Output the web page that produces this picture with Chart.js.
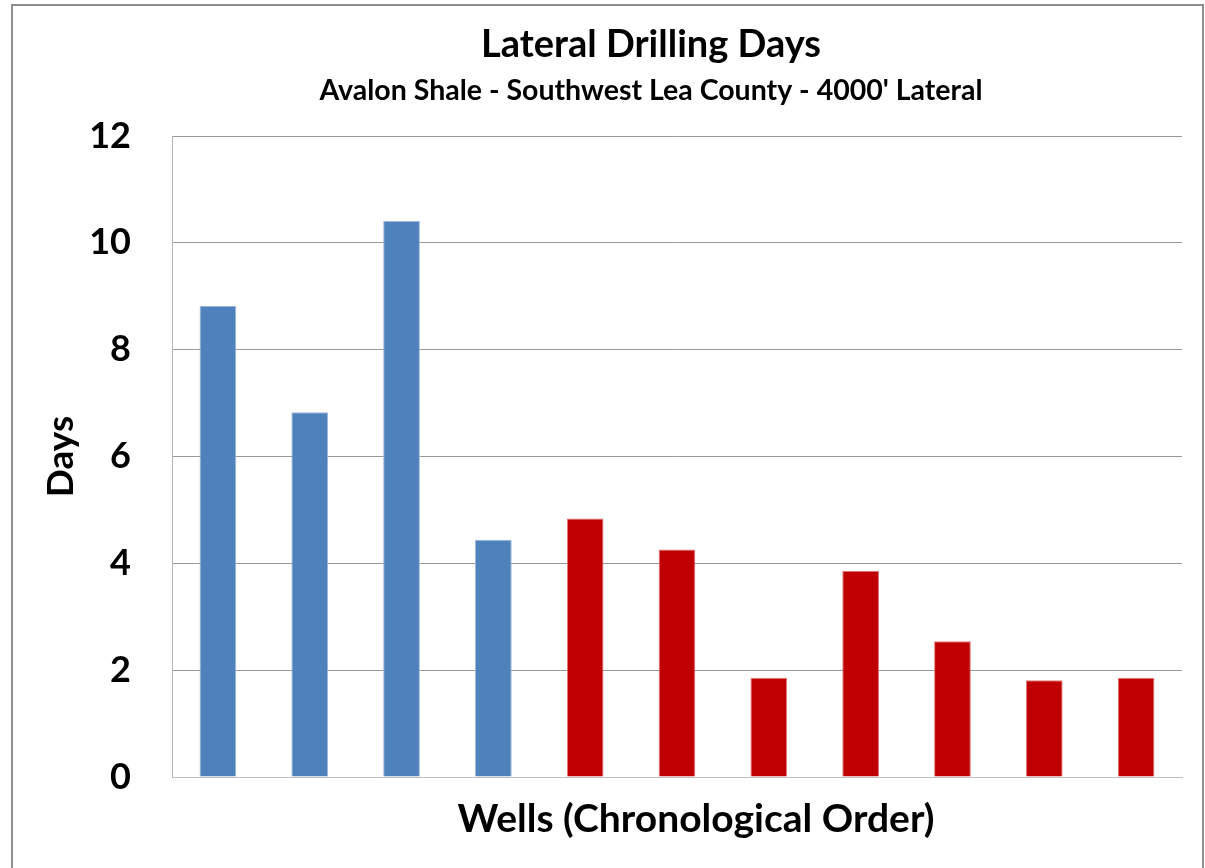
<!DOCTYPE html>
<html>
<head>
<meta charset="utf-8">
<title>Lateral Drilling Days</title>
<script src="https://cdn.jsdelivr.net/npm/chart.js@4.4.1/dist/chart.umd.min.js"></script>
<style>
  html, body { margin: 0; padding: 0; background: #ffffff; overflow: hidden; }
  #frame {
    position: absolute; left: 11px; top: 4px; width: 1189px; height: 900px;
    border-left: 2px solid #8e8e8e; border-top: 2px solid #8e8e8e; border-right: 2px solid #8e8e8e;
  }
  #chart { position: absolute; left: 0; top: 0; }
</style>
</head>
<body>
<div id="frame"></div>
<canvas id="chart" width="1205" height="868"></canvas>
<script>
// Wells in the order they were drilled
const wellLabels = ['1', '2', '3', '4', '5', '6', '7', '8', '9', '10', '11'];
// Days spent drilling the 4000' lateral section of each well
const lateralDays = [8.82, 6.83, 10.41, 4.44, 4.84, 4.26, 1.86, 3.86, 2.54, 1.81, 1.86];
// Colour group of each well
const wellGroup = ['A', 'A', 'A', 'A', 'B', 'B', 'B', 'B', 'B', 'B', 'B'];
const groupColors = { A: '#4f81bd', B: '#c00000' };
const groupEdges = { A: '#9db6d9', B: '#e07a7a' };
// Value axis tick labels
const dayTicks = [0, 2, 4, 6, 8, 10, 12];

const chartTitle = 'Lateral Drilling Days';
const chartSubtitle = "Avalon Shale - Southwest Lea County - 4000' Lateral";
const xAxisTitle = 'Wells (Chronological Order)';
const yAxisTitle = 'Days';

const FONT = 'Lato, "Open Sans", "DejaVu Sans", sans-serif';

// Titles are drawn by hand so they can sit where the layout wants them
const headings = {
  id: 'headings',
  afterDraw(chart) {
    const ctx = chart.ctx;
    const area = chart.chartArea;
    ctx.save();
    ctx.fillStyle = '#000000';
    ctx.textAlign = 'center';
    ctx.textBaseline = 'alphabetic';

    ctx.font = 'bold 38px ' + FONT;
    ctx.fillText(chartTitle, 651, 57);

    ctx.font = 'bold 28.5px ' + FONT;
    ctx.fillText(chartSubtitle, 651, 100);

    ctx.font = 'bold 39px ' + FONT;
    ctx.fillText(xAxisTitle, 696, 832);

    ctx.translate(73, (area.top + area.bottom) / 2);
    ctx.rotate(-Math.PI / 2);
    ctx.font = 'bold 37px ' + FONT;
    ctx.fillText(yAxisTitle, 0, 0);
    ctx.restore();
  }
};

function build() {
  new Chart(document.getElementById('chart'), {
    type: 'bar',
    data: {
      labels: wellLabels,
      datasets: [{
        data: lateralDays,
        backgroundColor: wellGroup.map(g => groupColors[g]),
        borderColor: wellGroup.map(g => groupEdges[g]),
        borderWidth: 1,
        categoryPercentage: 1.0,
        barPercentage: 0.4
      }]
    },
    options: {
      responsive: false,
      animation: false,
      devicePixelRatio: 1,
      layout: { padding: { top: 136, right: 23, left: 0, bottom: 0 } },
      plugins: {
        legend: { display: false },
        tooltip: { enabled: false },
        title: { display: false }
      },
      scales: {
        x: {
          grid: { display: false, drawTicks: false },
          border: { display: true, color: '#bfbfbf', width: 1 },
          ticks: { display: false },
          afterFit(scale) { scale.height = 91; }
        },
        y: {
          min: dayTicks[0],
          max: dayTicks[dayTicks.length - 1],
          afterBuildTicks(scale) { scale.ticks = dayTicks.map(v => ({ value: v })); },
          ticks: {
            color: '#000000',
            padding: 41,
            font: { family: FONT, weight: 'bold', size: 36 }
          },
          grid: {
            drawTicks: false,
            color: c => (c.tick && c.tick.value === 0 ? 'rgba(0,0,0,0)' : '#999999'),
            lineWidth: 1
          },
          border: { display: true, color: '#b5b5b5', width: 1 },
          afterFit(scale) { scale.width = 172; }
        }
      }
    },
    plugins: [headings]
  });
}

Promise.all([
  document.fonts.load('bold 36px Lato'),
  document.fonts.load('bold 28px Lato')
]).then(build, build);
</script>
</body>
</html>
